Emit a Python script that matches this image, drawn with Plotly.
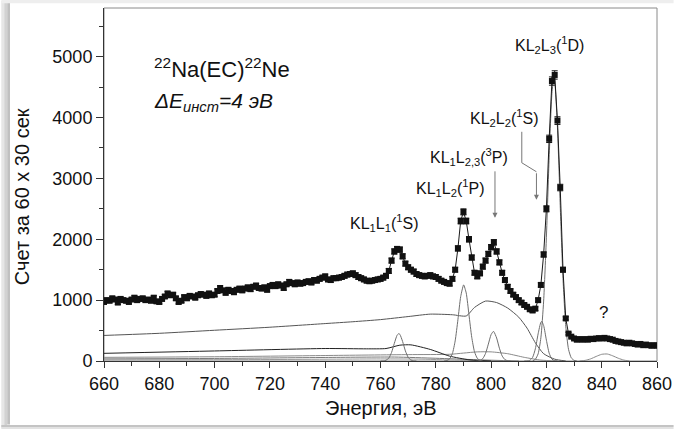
import plotly.graph_objects as go

# ---------------- data ----------------
energy = list(range(660, 861))
counts = [
    970, 1000, 990, 1030, 1010, 960, 1020, 1000, 990, 970,
    1010, 1040, 1000, 1020, 1030, 1000, 1010, 990, 1040, 980,
    970, 1020, 1060, 1110, 1080, 1090, 1030, 970, 990, 1050,
    1030, 1070, 1060, 1040, 1080, 1100, 1090, 1070, 1110, 1080,
    1090, 1150, 1200, 1160, 1120, 1170, 1150, 1130, 1170, 1190,
    1160, 1190, 1210, 1180, 1220, 1240, 1200, 1190, 1210, 1170,
    1230, 1250, 1230, 1260, 1240, 1200, 1260, 1300, 1280, 1260,
    1290, 1270, 1280, 1300, 1310, 1290, 1330, 1320, 1350, 1370,
    1390, 1340, 1330, 1360, 1360, 1370, 1380, 1400, 1420, 1430,
    1440, 1410, 1380, 1360, 1340, 1320, 1310, 1320, 1330, 1340,
    1350, 1370, 1400, 1480, 1650, 1800, 1840, 1830, 1720, 1600,
    1540, 1500, 1470, 1430, 1410, 1400, 1390, 1400, 1410, 1390,
    1380, 1350, 1320, 1300, 1280, 1270, 1350, 1500, 1850, 2300,
    2450, 2300, 2000, 1700, 1450, 1390, 1440, 1550, 1650, 1760,
    1870, 1950, 1800, 1620, 1450, 1330, 1220, 1150, 1090, 1050,
    1000, 960, 920, 890, 850, 830, 860, 1000, 1250, 1750,
    2500, 3650, 4600, 4700, 3950, 2850, 1500, 700, 450, 400,
    370, 350, 360, 350, 360, 350, 365, 360, 370, 375,
    370, 380, 370, 360, 350, 330, 320, 310, 300, 290,
    300, 290, 280, 270, 280, 260, 270, 260, 250, 260, 250,
]

# fitted components
bg_x = [660, 680, 700, 720, 740, 750, 760, 770, 778, 786, 791, 794, 798, 802, 806, 810, 813, 816, 819, 823, 827]
bg_y = [420, 455, 505, 555, 615, 645, 680, 730, 770, 760, 740, 880, 985, 960, 870, 720, 540, 300, 120, 30, 0]

t1_x = [660, 700, 740, 755, 762, 767, 771, 778, 785, 792, 800]
t1_y = [126, 165, 205, 200, 205, 260, 265, 190, 80, 20, 0]

t2_x = [660, 700, 740, 770, 785, 790, 795, 800, 806, 812, 818, 824]
t2_y = [60, 70, 90, 105, 110, 130, 150, 150, 120, 60, 15, 0]

t3_x = [660, 700, 740, 765, 780, 795, 810]
t3_y = [35, 42, 58, 65, 45, 20, 0]

t4_x = [660, 720, 760, 775, 790, 805]
t4_y = [18, 24, 34, 30, 10, 0]

g1_x = [760, 761, 762, 763, 764, 765, 766, 766.6, 767, 768, 769, 770, 771, 772, 773]
g1_y = [0, 2, 12, 48, 140, 290, 423, 450, 438, 320, 166, 61, 16, 3, 0]

g2_x = [783, 784, 785, 786, 787, 788, 789, 790, 790.1, 791, 792, 793, 794, 795, 796, 797]
g2_y = [0, 8, 34, 122, 330, 678, 1057, 1248, 1250, 1117, 758, 390, 152, 45, 10, 0]

g3_x = [795, 796, 797, 798, 799, 800, 800.8, 801, 802, 803, 804, 805, 806, 807]
g3_y = [1, 9, 40, 125, 277, 434, 485, 482, 378, 210, 83, 23, 4, 0]

g4_x = [812, 813, 814, 815, 816, 817, 818, 818.3, 819, 820, 821, 822, 823, 824]
g4_y = [0, 1, 11, 58, 200, 446, 637, 650, 583, 342, 129, 31, 5, 0]

g5_x = [815, 816, 817, 818, 819, 820, 821, 822, 822.7, 823, 824, 825, 826, 827, 828, 829, 830, 831]
g5_y = [0, 29, 117, 381, 985, 2034, 3350, 4398, 4650, 4603, 3839, 2553, 1353, 572, 192, 52, 11, 0]

g6_x = [832, 834, 836, 838, 840, 842, 844, 846, 848, 850]
g6_y = [0, 10, 35, 75, 110, 115, 85, 45, 15, 0]

x_ticks = [660, 680, 700, 720, 740, 760, 780, 800, 820, 840, 860]
y_ticks = [0, 1000, 2000, 3000, 4000, 5000]

FONT = "Liberation Sans, Arial, sans-serif"

fig = go.Figure()

def comp(x, y, color):
    fig.add_trace(go.Scatter(x=x, y=y, mode="lines",
                             line=dict(color=color, width=1, shape="spline", smoothing=0.6),
                             hoverinfo="skip", showlegend=False))

for cx, cy, col in [(t4_x, t4_y, "#9a9a9a"), (t3_x, t3_y, "#7a7a7a"), (t2_x, t2_y, "#8a8a8a"),
                    (t1_x, t1_y, "#222222"), (bg_x, bg_y, "#555555"),
                    (g1_x, g1_y, "#6e6e6e"), (g2_x, g2_y, "#6e6e6e"), (g3_x, g3_y, "#6e6e6e"),
                    (g4_x, g4_y, "#6e6e6e"), (g5_x, g5_y, "#6e6e6e"), (g6_x, g6_y, "#8a8a8a")]:
    comp(cx, cy, col)

fig.add_trace(go.Scatter(
    x=energy, y=counts, mode="lines+markers",
    line=dict(color="#1a1a1a", width=1),
    marker=dict(symbol="square", size=6, color="#111111"),
    error_y=dict(type="sqrt", visible=True, color="#111111", thickness=1, width=3),
    showlegend=False, hoverinfo="skip"))

# outer picture frame / shadow
shapes = [
    dict(type="rect", xref="paper", yref="paper", x0=0, x1=1, y0=0, y1=1,
         line=dict(color="#8a8a8a", width=1), layer="below"),
    dict(type="rect", xref="paper", yref="paper", x0=-0.1857, x1=-0.1804, y0=-0.19, y1=1.02,
         line=dict(width=0), fillcolor="#e6e6e6"),
    dict(type="rect", xref="paper", yref="paper", x0=-0.1804, x1=-0.1750, y0=-0.19, y1=1.02,
         line=dict(width=0), fillcolor="#d2d2d2"),
    dict(type="rect", xref="paper", yref="paper", x0=-0.1750, x1=-0.1700, y0=-0.18, y1=1.02,
         line=dict(width=0), fillcolor="#c0c0c0"),
    dict(type="rect", xref="paper", yref="paper", x0=-0.1857, x1=1.03, y0=-0.1815, y1=-0.1870,
         line=dict(width=0), fillcolor="#c4c4c4"),
    dict(type="rect", xref="paper", yref="paper", x0=-0.1857, x1=1.03, y0=-0.1870, y1=-0.1930,
         line=dict(width=0), fillcolor="#e2e2e2"),
    dict(type="rect", xref="paper", yref="paper", x0=-0.1857, x1=1.03, y0=1.0135, y1=1.0227,
         line=dict(width=0), fillcolor="#eeeeee"),
    # bent arrow for KL2L2(1S)
    dict(type="path", xref="x", yref="y",
         path="M 811.1 3766 L 811.1 3257 L 816.4 3109",
         line=dict(color="#777777", width=1)),
]

anns = [
    dict(x=677.5, y=4819, text="<sup>22</sup>Na(EC)<sup>22</sup>Ne", xanchor="left", yanchor="middle",
         font=dict(size=22, color="#111")),
    dict(x=677.5, y=4250, text="<i>ΔE<sub>инст</sub>=4 эВ</i>", xanchor="left", yanchor="middle",
         font=dict(size=21, color="#111")),
    dict(x=821.1, y=5197, text="KL<sub>2</sub>L<sub>3</sub>(<sup>1</sup>D)", font=dict(size=16, color="#111")),
    dict(x=805.0, y=3997, text="KL<sub>2</sub>L<sub>2</sub>(<sup>1</sup>S)", font=dict(size=16, color="#111")),
    dict(x=792.1, y=3355, text="KL<sub>1</sub>L<sub>2,3</sub>(<sup>3</sup>P)", font=dict(size=16, color="#111")),
    dict(x=785.4, y=2845, text="KL<sub>1</sub>L<sub>2</sub>(<sup>1</sup>P)", font=dict(size=16, color="#111")),
    dict(x=761.4, y=2270, text="KL<sub>1</sub>L<sub>1</sub>(<sup>1</sup>S)", font=dict(size=16, color="#111")),
    dict(x=840.7, y=790, text="?", font=dict(size=17, color="#111")),
    # arrows
    dict(x=801.4, y=2352, ax=801.4, ay=3141, axref="x", ayref="y", xref="x", yref="y", text="",
         showarrow=True, arrowhead=2, arrowsize=1, arrowwidth=1, arrowcolor="#777777"),
    dict(x=816.4, y=2648, ax=816.4, ay=3109, axref="x", ayref="y", xref="x", yref="y", text="",
         showarrow=True, arrowhead=2, arrowsize=1, arrowwidth=1, arrowcolor="#777777"),
    # axis titles
    dict(x=0.5, y=-0.132, xref="paper", yref="paper", text="Энергия, эВ", showarrow=False,
         font=dict(size=20, color="#111"), xanchor="center", yanchor="middle"),
    dict(x=-0.148, y=0.4646, xref="paper", yref="paper", text="Счет за 60 x 30 сек", showarrow=False,
         textangle=-90, font=dict(size=20, color="#111"), xanchor="center", yanchor="middle"),
]
for a in anns:
    a.setdefault("showarrow", False)
    a.setdefault("xref", "x")
    a.setdefault("yref", "y")

fig.update_layout(
    width=680, height=429,
    margin=dict(l=104, r=16, t=8, b=68),
    paper_bgcolor="white", plot_bgcolor="white",
    font=dict(family=FONT, size=18, color="#111"),
    shapes=shapes, annotations=anns,
    showlegend=False,
)
fig.update_xaxes(range=[660, 860], tickvals=x_ticks, ticks="outside", ticklen=6, tickcolor="#333",
                 showline=True, linecolor="#333", linewidth=1, showgrid=False, zeroline=False,
                 tickfont=dict(size=18, color="#111"),
                 minor=dict(dtick=10, ticks="outside", ticklen=4, tickcolor="#333", showgrid=False))
fig.update_yaxes(range=[0, 5800], tickvals=y_ticks, ticks="outside", ticklen=7, tickcolor="#333",
                 showline=True, linecolor="#333", linewidth=1, showgrid=False, zeroline=False,
                 tickfont=dict(size=18, color="#111"),
                 minor=dict(dtick=500, ticks="outside", ticklen=4, tickcolor="#333", showgrid=False))

fig.write_html("out.html")
